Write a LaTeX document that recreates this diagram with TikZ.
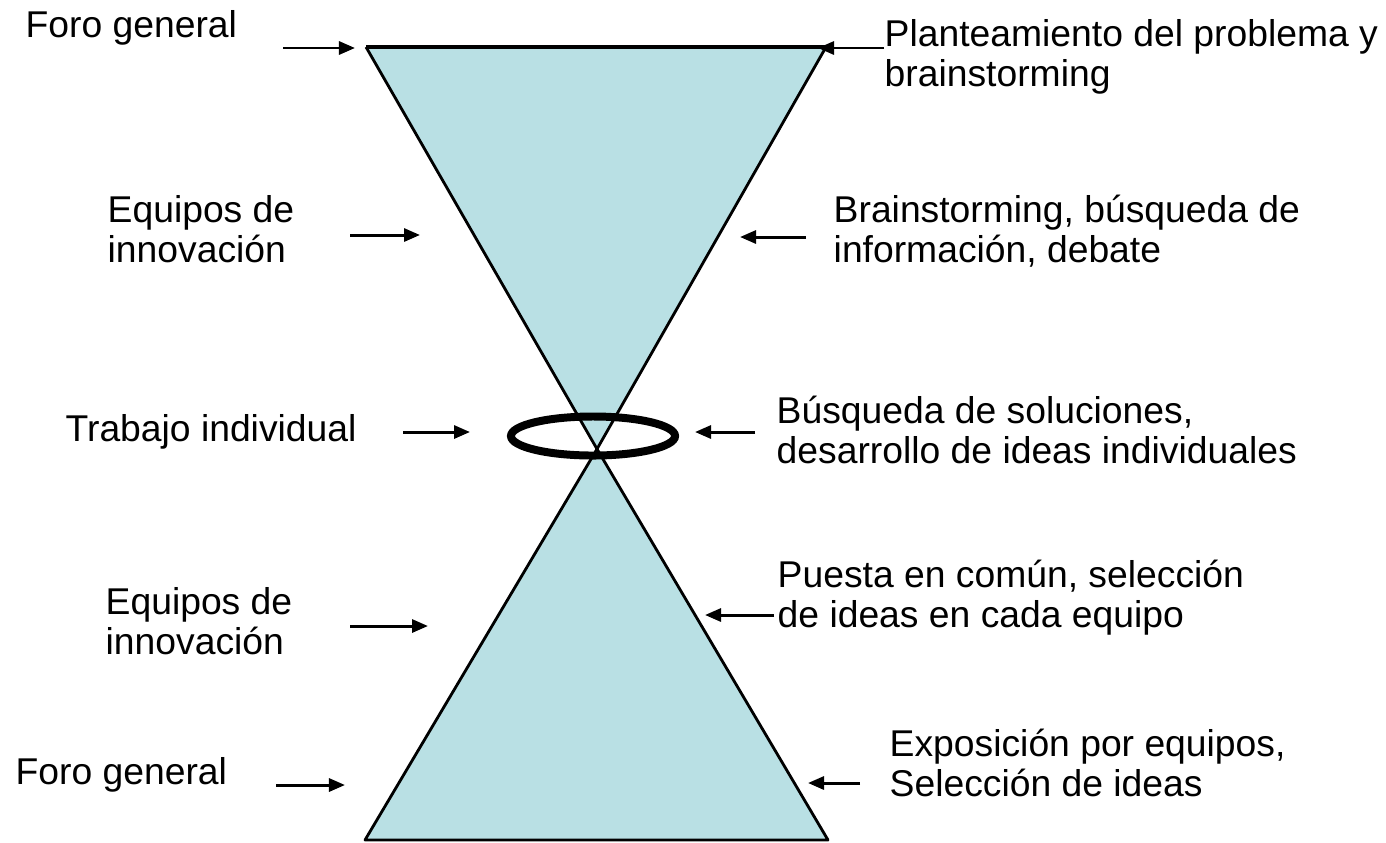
\documentclass[tikz,border=0pt]{standalone}
\usepackage{fontspec}
\setmainfont{Liberation Sans}
\usetikzlibrary{arrows.meta}
\definecolor{cono}{RGB}{185,224,228}
\begin{document}
\begin{tikzpicture}[x=0.01cm, y=-0.01cm,
    etiqueta/.style={anchor=base west, inner sep=0pt, align=left,
      font=\fontsize{10.6}{11.1}\selectfont},
    flecha/.style={line width=0.85pt, -{Triangle[length=0.16cm, width=0.13cm]}}]
    \useasboundingbox (0, 0) rectangle (1386, 842);
    % upper cone
    \fill [cono] (366, 47) -- (826, 47) -- (597, 449) -- cycle;
    \draw [line width=0.8pt, line join=round] (826, 47) -- (597, 449) -- (366, 47);
    \draw [line width=1.1pt] (366, 47) -- (826, 47);
    % lower cone
    \fill [cono] (597, 449) -- (828, 840) -- (365, 840) -- cycle;
    \draw [line width=0.8pt, line join=round] (597, 449) -- (828, 840) -- (365, 840) -- cycle;
    % individual work ring
    \draw [line width=2.27pt] (593, 436) ellipse [x radius=0.82cm, y radius=0.195cm];
    % labels (base = last line)
    \node [etiqueta] (foro1) at (25, 37) {Foro general};
    \node [etiqueta] (plant) at (884, 86) {Planteamiento del problema y\\brainstorming};
    \node [etiqueta] (equipos1) at (107, 262) {Equipos de\\innovación};
    \node [etiqueta] (brain) at (833, 262) {Brainstorming, búsqueda de\\información, debate};
    \node [etiqueta] (trabajo) at (65, 441) {Trabajo individual};
    \node [etiqueta] (busq) at (776, 463) {Búsqueda de soluciones,\\desarrollo de ideas individuales};
    \node [etiqueta] (equipos2) at (105, 654) {Equipos de\\innovación};
    \node [etiqueta] (puesta) at (777, 627) {Puesta en común, selección\\de ideas en cada equipo};
    \node [etiqueta] (expo) at (889, 796) {Exposición por equipos,\\Selección de ideas};
    \node [etiqueta] (foro2) at (15, 784) {Foro general};
    % arrow ends
    \coordinate (foro1a) at (283, 48);
    \coordinate (foro1b) at (355, 48);
    \coordinate (planta) at (884, 48);
    \coordinate (plantb) at (818, 48);
    \coordinate (equipos1a) at (350, 235);
    \coordinate (equipos1b) at (420, 235);
    \coordinate (braina) at (806, 237);
    \coordinate (brainb) at (740, 237);
    \coordinate (trabajoa) at (403, 432);
    \coordinate (trabajob) at (470, 432);
    \coordinate (busqa) at (755, 432);
    \coordinate (busqb) at (695, 432);
    \coordinate (equipos2a) at (350, 626);
    \coordinate (equipos2b) at (428, 626);
    \coordinate (puestaa) at (774, 615);
    \coordinate (puestab) at (705, 615);
    \coordinate (expoa) at (860, 783);
    \coordinate (expob) at (808, 783);
    \coordinate (foro2a) at (276, 785);
    \coordinate (foro2b) at (345, 785);
    % arrows
    \draw [flecha] (foro1a) -- (foro1b);
    \draw [flecha] (planta) -- (plantb);
    \draw [flecha] (equipos1a) -- (equipos1b);
    \draw [flecha] (braina) -- (brainb);
    \draw [flecha] (trabajoa) -- (trabajob);
    \draw [flecha] (busqa) -- (busqb);
    \draw [flecha] (equipos2a) -- (equipos2b);
    \draw [flecha] (puestaa) -- (puestab);
    \draw [flecha] (expoa) -- (expob);
    \draw [flecha] (foro2a) -- (foro2b);
  \end{tikzpicture}
\end{document}
